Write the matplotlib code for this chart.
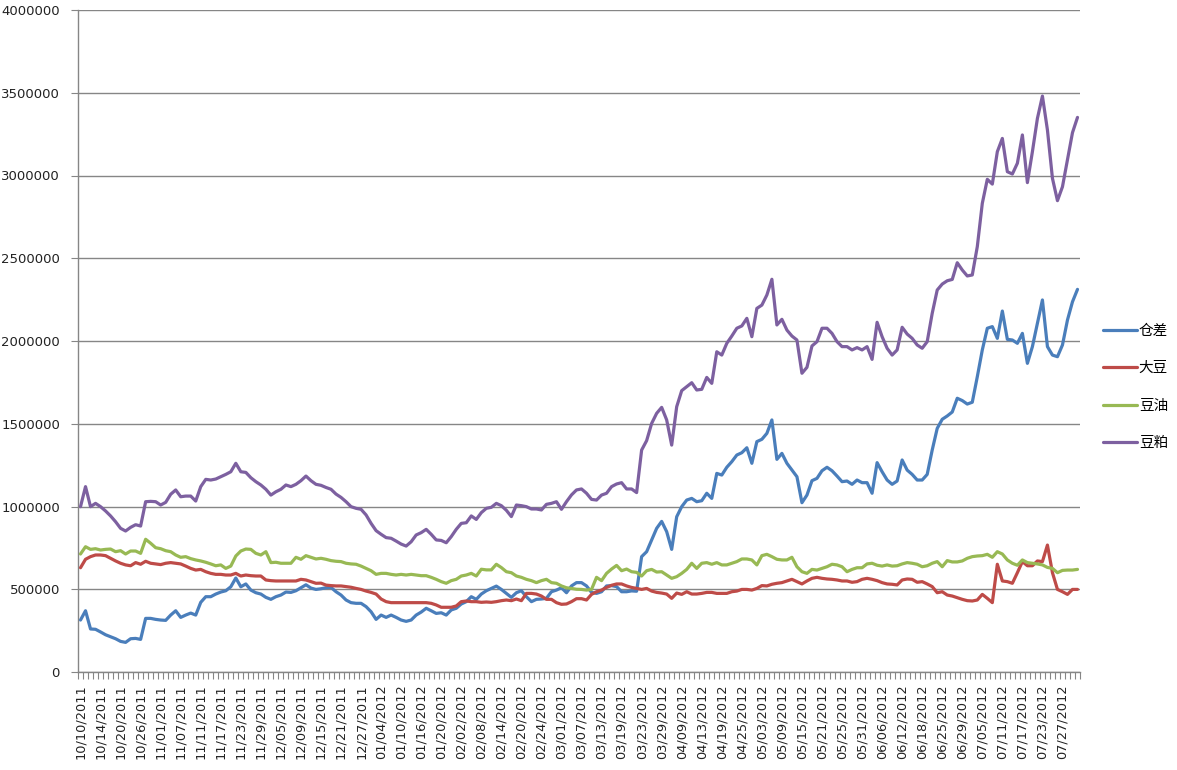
import numpy as np
import matplotlib
matplotlib.use("Agg")
import matplotlib.pyplot as plt
from matplotlib.ticker import MultipleLocator, FixedLocator, FuncFormatter

# ---- data (values in thousands) ----
series_names = ["仓差", "大豆", "豆油", "豆粕"]

cangcha_k = [314, 370, 260, 258, 242, 225, 213, 201, 185, 179,
             201, 203, 197, 324, 324, 318, 314, 312, 344, 370,
             330, 344, 356, 344, 421, 455, 455, 471, 483, 491,
             515, 568, 515, 532, 495, 479, 471, 451, 439, 455,
             465, 483, 481, 491, 509, 527, 507, 499, 503, 509,
             511, 485, 465, 435, 419, 415, 415, 395, 364, 318,
             344, 330, 344, 330, 314, 306, 314, 344, 362, 385,
             370, 354, 358, 344, 375, 385, 411, 425, 455, 439,
             471, 491, 505, 519, 499, 475, 451, 479, 491, 455,
             425, 439, 441, 445, 485, 495, 509, 479, 520, 540,
             540, 520, 481, 475, 485, 520, 522, 516, 485, 485,
             490, 488, 697, 727, 798, 868, 910, 848, 741, 938,
             999, 1039, 1049, 1029, 1035, 1080, 1049, 1200, 1190, 1237,
             1271, 1311, 1325, 1355, 1261, 1392, 1406, 1442, 1523, 1285,
             1321, 1261, 1220, 1180, 1023, 1069, 1156, 1170, 1216, 1237,
             1216, 1184, 1150, 1154, 1134, 1160, 1144, 1144, 1080, 1265,
             1210, 1160, 1134, 1154, 1281, 1220, 1194, 1160, 1160, 1194,
             1341, 1472, 1527, 1547, 1571, 1654, 1640, 1619, 1630, 1784,
             1946, 2077, 2087, 2016, 2181, 2010, 2006, 1986, 2046, 1865,
             1966, 2107, 2248, 1966, 1915, 1905, 1976, 2127, 2237, 2312]

dadou_k = [630, 681, 697, 707, 707, 703, 687, 671, 657, 647,
           642, 661, 651, 669, 657, 653, 649, 657, 661, 657,
           653, 640, 626, 616, 620, 606, 596, 590, 590, 586,
           586, 596, 580, 586, 582, 580, 580, 556, 552, 550,
           550, 550, 550, 550, 560, 556, 546, 536, 537, 525,
           522, 520, 520, 516, 512, 505, 499, 489, 481, 471,
           441, 425, 419, 419, 419, 419, 419, 419, 419, 419,
           415, 405, 391, 391, 391, 399, 425, 429, 425, 425,
           421, 423, 421, 425, 431, 435, 431, 441, 431, 475,
           475, 471, 459, 439, 439, 419, 409, 411, 425, 443,
           443, 435, 469, 485, 495, 511, 524, 532, 532, 520,
           511, 505, 499, 505, 489, 481, 477, 471, 445, 477,
           469, 485, 471, 471, 475, 481, 481, 475, 475, 475,
           485, 489, 499, 499, 495, 505, 522, 520, 530, 536,
           540, 550, 560, 546, 532, 550, 566, 572, 566, 562,
           560, 556, 550, 550, 542, 546, 560, 566, 560, 552,
           540, 532, 530, 526, 556, 562, 560, 542, 546, 532,
           516, 479, 485, 465, 459, 449, 439, 431, 429, 435,
           469, 445, 419, 651, 550, 546, 536, 600, 667, 642,
           642, 671, 667, 767, 600, 499, 485, 469, 499, 499]

douyou_k = [713, 757, 741, 745, 737, 741, 743, 727, 733, 713,
            731, 731, 717, 802, 778, 751, 745, 733, 727, 707,
            693, 697, 685, 677, 671, 663, 653, 642, 647, 626,
            640, 701, 731, 743, 741, 717, 707, 727, 661, 663,
            657, 657, 657, 693, 681, 703, 693, 683, 687, 681,
            673, 669, 667, 657, 653, 651, 640, 626, 612, 590,
            596, 596, 590, 586, 590, 586, 590, 586, 582, 582,
            572, 560, 546, 536, 552, 560, 580, 586, 596, 580,
            621, 617, 617, 651, 631, 606, 600, 580, 572, 560,
            552, 540, 552, 560, 540, 536, 520, 509, 505, 500,
            499, 495, 499, 572, 552, 596, 622, 644, 612, 622,
            606, 602, 580, 612, 620, 604, 606, 586, 566, 576,
            596, 620, 657, 626, 657, 661, 651, 661, 647, 647,
            657, 667, 683, 683, 677, 647, 703, 711, 697, 681,
            677, 677, 693, 636, 606, 596, 620, 616, 626, 636,
            651, 647, 636, 606, 620, 630, 630, 653, 657, 645,
            640, 647, 640, 642, 653, 661, 657, 651, 636, 642,
            657, 667, 636, 673, 665, 665, 671, 687, 697, 701,
            703, 711, 693, 727, 713, 677, 657, 645, 677, 661,
            657, 653, 647, 632, 626, 600, 614, 616, 616, 620]

doupo_k = [999, 1120, 999, 1019, 999, 973, 943, 908, 868, 852,
           874, 890, 882, 1029, 1031, 1029, 1009, 1025, 1074, 1100,
           1059, 1063, 1063, 1033, 1120, 1164, 1160, 1166, 1180, 1194,
           1210, 1261, 1210, 1206, 1174, 1150, 1130, 1104, 1069, 1089,
           1104, 1130, 1120, 1134, 1156, 1184, 1156, 1134, 1128, 1115,
           1104, 1075, 1055, 1029, 999, 989, 983, 949, 898, 854,
           832, 812, 808, 791, 773, 761, 787, 828, 842, 862,
           832, 798, 795, 781, 818, 862, 898, 902, 943, 922,
           963, 989, 995, 1019, 1005, 977, 939, 1009, 1005, 999,
           985, 985, 979, 1013, 1019, 1029, 983, 1029, 1070, 1100,
           1106, 1080, 1043, 1039, 1069, 1080, 1120, 1136, 1144, 1106,
           1106, 1084, 1341, 1398, 1502, 1563, 1599, 1523, 1371, 1603,
           1700, 1724, 1748, 1704, 1708, 1780, 1744, 1935, 1915, 1986,
           2030, 2077, 2091, 2137, 2026, 2197, 2217, 2278, 2373, 2097,
           2131, 2066, 2030, 2006, 1805, 1841, 1970, 1996, 2077, 2077,
           2046, 1996, 1966, 1966, 1946, 1960, 1946, 1966, 1889, 2113,
           2026, 1956, 1915, 1946, 2083, 2042, 2016, 1976, 1956, 1996,
           2167, 2308, 2344, 2364, 2372, 2473, 2429, 2393, 2399, 2570,
           2832, 2977, 2948, 3144, 3224, 3023, 3009, 3074, 3245, 2957,
           3144, 3345, 3480, 3275, 2983, 2848, 2932, 3094, 3259, 3351]

tick_labels = ["10/10/2011", "10/14/2011", "10/20/2011", "10/26/2011", "11/01/2011",
               "11/07/2011", "11/11/2011", "11/17/2011", "11/23/2011", "11/29/2011",
               "12/05/2011", "12/09/2011", "12/15/2011", "12/21/2011", "12/27/2011",
               "01/04/2012", "01/10/2012", "01/16/2012", "01/20/2012", "02/02/2012",
               "02/08/2012", "02/14/2012", "02/20/2012", "02/24/2012", "03/01/2012",
               "03/07/2012", "03/13/2012", "03/19/2012", "03/23/2012", "03/29/2012",
               "04/09/2012", "04/13/2012", "04/19/2012", "04/25/2012", "05/03/2012",
               "05/09/2012", "05/15/2012", "05/21/2012", "05/25/2012", "05/31/2012",
               "06/06/2012", "06/12/2012", "06/18/2012", "06/25/2012", "06/29/2012",
               "07/05/2012", "07/11/2012", "07/17/2012", "07/23/2012", "07/27/2012"]
label_step = 4

colors = ["#4A7EBB", "#BE4B48", "#98B954", "#7D60A0"]

# ---- figure ----
plt.rcParams['font.family'] = ['DejaVu Sans']
fig = plt.figure(figsize=(11.77, 7.70), dpi=100)
ax = fig.add_axes([78 / 1177, 1 - 672 / 770, (1080 - 78) / 1177, (672 - 10) / 770])

all_series = [cangcha_k, dadou_k, douyou_k, doupo_k]
n = len(cangcha_k)
x = np.arange(n)
handles = []
for vals, c, name in zip(all_series, colors, series_names):
    h, = ax.plot(x, np.array(vals) * 1000, color=c, lw=2.3, solid_joinstyle='round',
                 solid_capstyle='round', label=name, zorder=3)
    handles.append(h)

ax.set_xlim(-0.5, n - 0.5)
ax.set_ylim(0, 4000000)
ax.yaxis.set_major_locator(MultipleLocator(500000))
ax.yaxis.set_major_formatter(FuncFormatter(lambda v, p: f"{int(v)}"))
ax.grid(axis='y', color='#868686', lw=1.0, zorder=1)
ax.set_axisbelow(True)

ax.xaxis.set_major_locator(FixedLocator(np.arange(0, len(tick_labels) * label_step, label_step)))
ax.set_xticklabels(tick_labels, rotation=90, fontsize=9.3, color='#222222')
ax.xaxis.set_minor_locator(FixedLocator(np.arange(-0.5, n, 1.0)))
ax.tick_params(axis='x', which='major', length=0, pad=9)
ax.tick_params(axis='x', which='minor', length=5, color='#868686', width=0.8)
ax.tick_params(axis='y', length=5, color='#868686', width=0.8, labelsize=9.5,
               pad=8, labelcolor='#222222')

for s in ['top', 'right']:
    ax.spines[s].set_visible(False)
for s in ['left', 'bottom']:
    ax.spines[s].set_color('#868686')
    ax.spines[s].set_linewidth(1.0)

leg = fig.legend(handles, series_names, loc='center left',
                 bbox_to_anchor=(1090 / 1177, 1 - 387 / 770), frameon=False,
                 prop={'family': ['Noto Sans CJK SC', 'DejaVu Sans'], 'size': 10.5},
                 handlelength=2.3, handletextpad=0.15, labelspacing=1.6)

fig.savefig("out.png", dpi=100)
